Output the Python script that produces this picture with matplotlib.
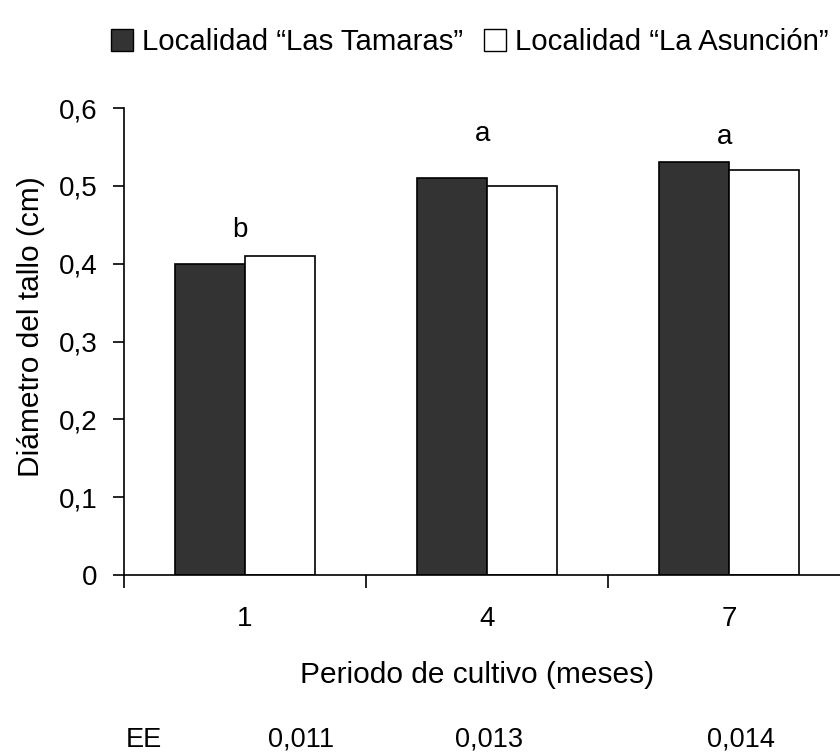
import numpy as np
import matplotlib
matplotlib.use("Agg")
import matplotlib.pyplot as plt
from matplotlib.patches import Patch
import matplotlib.transforms as mtransforms

plt.rcParams['font.family'] = ['Liberation Sans', 'DejaVu Sans']

# data
months = ['1', '4', '7']
las_tamaras = [0.40, 0.51, 0.53]
la_asuncion = [0.41, 0.50, 0.52]
letters = ['b', 'a', 'a']
letter_y = [0.443, 0.566, 0.563]
ee_values = ['0,011', '0,013', '0,014']
ee_x = [1.23, 2.01, 3.05]
series_names = ['Localidad \u201cLas Tamaras\u201d', 'Localidad \u201cLa Asunci\u00f3n\u201d']

fig = plt.figure(figsize=(8.4, 7.55), dpi=100)
ax = fig.add_axes([124 / 840, 1 - 575 / 755, 726 / 840, 467 / 755])

x = np.arange(1, len(months) + 1)
w = 0.288
ax.bar(x - w / 2, las_tamaras, w, color='#333333', edgecolor='black', linewidth=1.2)
ax.bar(x + w / 2, la_asuncion, w, color='white', edgecolor='black', linewidth=1.2)

for xi, lab, ly in zip(x, letters, letter_y):
    ax.text(xi - 0.02, ly, lab, ha='center', va='center', fontsize=20)

ax.set_xlim(0.5, 3.5)
ax.set_ylim(0, 0.6)
ax.set_yticks([0, 0.1, 0.2, 0.3, 0.4, 0.5, 0.6])
ax.set_yticklabels(['0', '0,1', '0,2', '0,3', '0,4', '0,5', '0,6'], fontsize=20)
ax.tick_params(axis='y', direction='out', length=8, width=1.2, pad=11)

# ticks between categories, labels at centres
ax.set_xticks([0.5, 1.5, 2.5])
ax.set_xticklabels([])
ax.tick_params(axis='x', which='major', direction='out', length=9, width=1.2)
ax.set_xticks(x, minor=True)
ax.set_xticklabels(months, minor=True, fontsize=20)
ax.tick_params(axis='x', which='minor', length=0, pad=22)

for s in ['top', 'right']:
    ax.spines[s].set_visible(False)
for s in ['left', 'bottom']:
    ax.spines[s].set_linewidth(1.2)

ax.set_ylabel('Di\u00e1metro del tallo (cm)', fontsize=21.5)
ax.yaxis.set_label_coords(-0.109, 0.531)

fig.text(477 / 840, 1 - 675 / 755, 'Periodo de cultivo (meses)', ha='center', va='center', fontsize=21.5)

# EE row
trans = mtransforms.blended_transform_factory(ax.transData, fig.transFigure)
fig.text(144 / 840, 2 / 755, 'EE', ha='center', va='bottom', fontsize=19.5)
for ex, ev in zip(ee_x, ee_values):
    ax.text(ex, 2 / 755, ev, transform=trans, ha='center', va='bottom', fontsize=19.5, clip_on=False)

handles = [Patch(facecolor='#333333', edgecolor='black'),
           Patch(facecolor='white', edgecolor='black')]
fig.legend(handles, series_names, loc='center', bbox_to_anchor=(470 / 840, 1 - 42 / 755),
           ncol=2, frameon=False, fontsize=21.2, handlelength=0.75, handleheight=0.75,
           handletextpad=0.3, columnspacing=0.7, borderaxespad=0)

fig.savefig('out.png', dpi=100)
